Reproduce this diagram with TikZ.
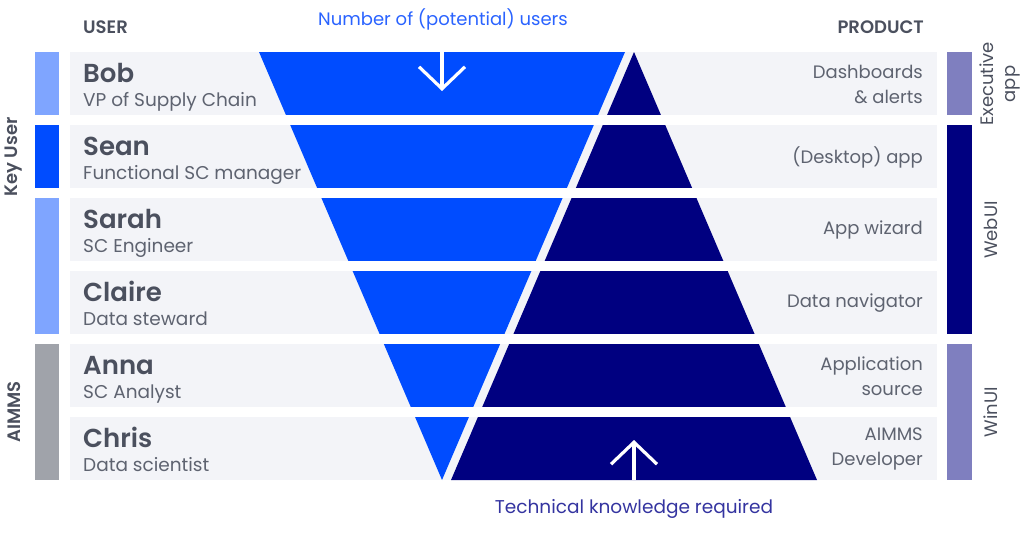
\documentclass[tikz,border=0pt]{standalone}
\usepackage{fontspec}
\IfFontExistsTF{Poppins SemiBold}
    {\setmainfont{Poppins}[BoldFont={Poppins SemiBold}]}
    {\setmainfont{Poppins}}
\usetikzlibrary{arrows.meta}

\definecolor{rowgray}{HTML}{F3F4F8}
\definecolor{userblue}{HTML}{004CFF}
\definecolor{lightblue}{HTML}{7FA5FF}
\definecolor{prodnavy}{HTML}{000080}
\definecolor{lightnavy}{HTML}{7F7FBF}
\definecolor{aimmsgray}{HTML}{A0A3AA}
\definecolor{textgray}{HTML}{4B505E}
\definecolor{subgray}{HTML}{5E6370}
\definecolor{topblue}{HTML}{2A63FF}
\definecolor{botnavy}{HTML}{3434A0}

\tikzset{
  username/.style={anchor=base west, inner sep=0pt, text=textgray, font=\fontsize{26}{28}\selectfont\bfseries},
  role/.style={anchor=base west, inner sep=0pt, text=subgray, font=\fontsize{18.5}{20}\selectfont},
  prodtext/.style={anchor=east, inner sep=0pt, align=right, text=subgray, font=\fontsize{18}{25}\selectfont},
  colhead/.style={inner sep=0pt, text=textgray, font=\fontsize{18}{20}\selectfont\bfseries},
  sidelabel/.style={rotate=90, text=textgray, font=\fontsize{18}{20}\selectfont\bfseries},
  prodlabel/.style={rotate=90, align=center, text=textgray, font=\fontsize{18}{22}\selectfont},
  bigarrow/.style={white, line width=3.2pt, -{Straight Barb[length=22pt, width=46pt]}}
}

\begin{document}
\begin{tikzpicture}[x=1pt,y=-1pt]
\useasboundingbox (0,0) rectangle (1024,541);
% rows
\foreach \i in {0,...,5}
    \fill[rowgray] (70,52+73*\i) rectangle (937,115+73*\i);
% the two funnels, cut by the gaps between rows
\fill[userblue] (259,52) -- (625,52) -- (442,480) -- cycle;
\fill[prodnavy] (634,52) -- (817,480) -- (451,480) -- cycle;
\foreach \i in {0,...,4}
    \fill[white] (240,115+73*\i) rectangle (840,125+73*\i);
% side bars
\fill[lightblue] (35,52) rectangle (59,115);
\fill[userblue] (35,125) rectangle (59,188);
\fill[lightblue] (35,198) rectangle (59,334);
\fill[aimmsgray] (35,344) rectangle (59,480);
\fill[lightnavy] (947,52) rectangle (972,115);
\fill[prodnavy] (947,125) rectangle (972,334);
\fill[lightnavy] (947,344) rectangle (972,480);
% users
\foreach \i/\who/\job in {0/Bob/VP of Supply Chain, 1/Sean/Functional SC manager,
    2/Sarah/SC Engineer, 3/Claire/Data steward, 4/Anna/SC Analyst, 5/Chris/Data scientist} {
    \node[username] (\who) at (83,82+73*\i) {\who};
    \node[role] (\who-job) at (83,106+73*\i) {\job};
}
% products
\foreach \i/\what in {0/{Dashboards\\\& alerts}, 1/{(Desktop) app}, 2/{App wizard},
    3/{Data navigator}, 4/{Application\\source}, 5/{AIMMS\\Developer}}
    \node[prodtext] (prod\i) at (923,84+73*\i) {\what};
% headers and side labels
\node[colhead, anchor=base west] (user) at (83,33) {USER};
\node[colhead, anchor=base east] (product) at (924,33) {PRODUCT};
\node[anchor=base, text=topblue, font=\fontsize{18}{20}\selectfont] (numusers) at (443,25) {Number of (potential) users};
\node[anchor=base, text=botnavy, font=\fontsize{18.5}{20}\selectfont] (techknow) at (634,513) {Technical knowledge required};
\node[sidelabel] (keyuser) at (14,157) {Key User};
\node[sidelabel] (aimms) at (14,412) {AIMMS};
\node[prodlabel] (executive) at (1000,84) {Executive\\app};
\node[prodlabel] (webui) at (991,230) {WebUI};
\node[prodlabel] (winui) at (991,412) {WinUI};
% arrows
\coordinate (usersfrom) at (442,52);
\coordinate (usersto) at (442,91);
\draw[bigarrow] (usersfrom) -- (usersto);
\coordinate (techfrom) at (634,480);
\coordinate (techto) at (634,440);
\draw[bigarrow] (techfrom) -- (techto);
\end{tikzpicture}
\end{document}
